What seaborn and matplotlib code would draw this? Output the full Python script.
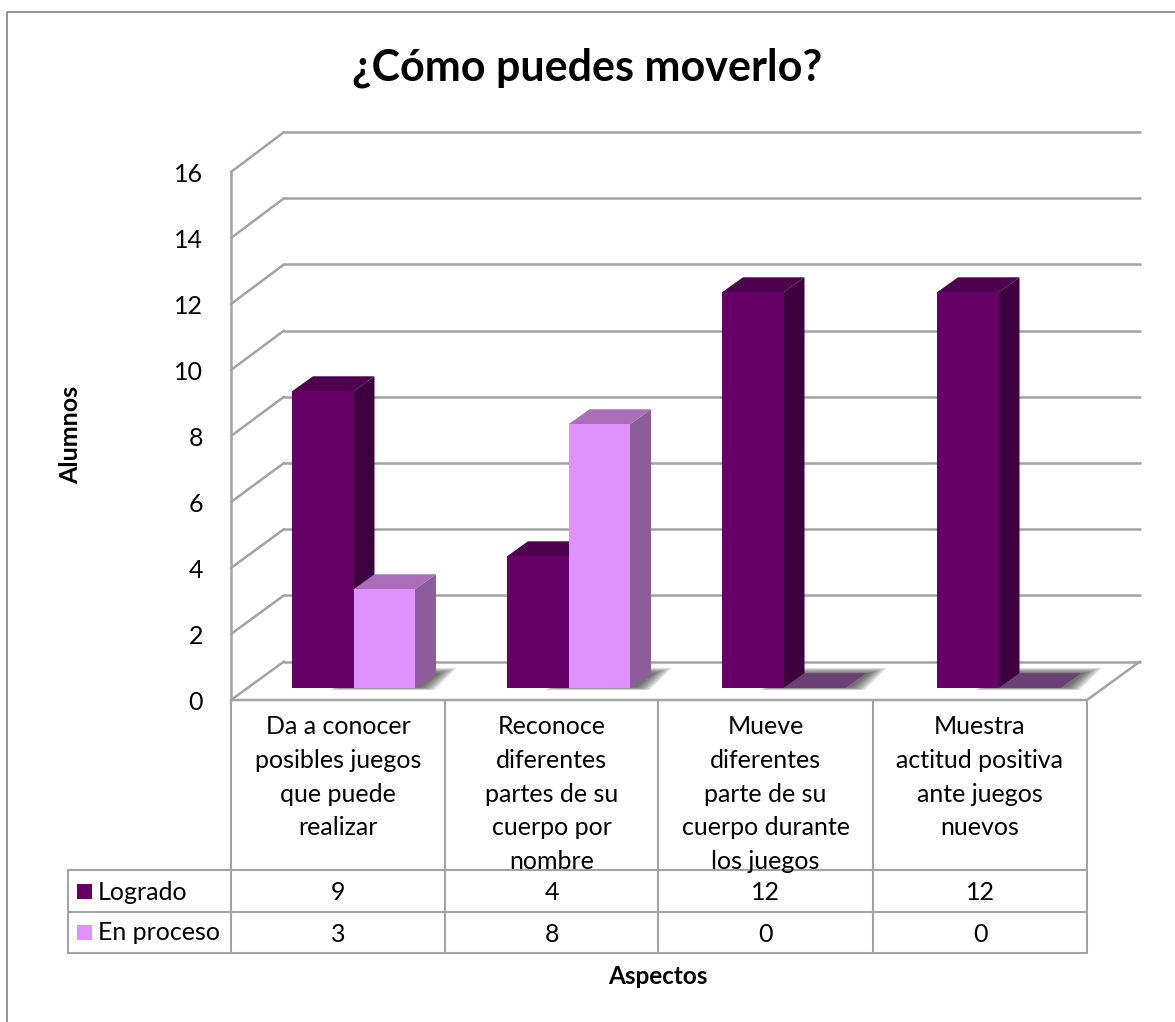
import seaborn as sns
import pandas as pd
import matplotlib.pyplot as plt
from matplotlib.patches import Polygon, Rectangle

# Data
categories = ["Da a conocer\nposibles juegos\nque puede\nrealizar",
              "Reconoce\ndiferentes\npartes de su\ncuerpo por\nnombre",
              "Mueve\ndiferentes\nparte de su\ncuerpo durante\nlos juegos",
              "Muestra\nactitud positiva\nante juegos\nnuevos"]
logrado = [9, 4, 12, 12]
en_proceso = [3, 8, 0, 0]
series_names = ["Logrado", "En proceso"]
y_ticks = [0, 2, 4, 6, 8, 10, 12, 14, 16]

W, H = 1175, 1022
GRAY = "#a3a3a3"
colors = {"Logrado": "#660066", "En proceso": "#df91fd"}
top_colors = {"Logrado": "#4d004d", "En proceso": "#ab6cba"}
side_colors = {"Logrado": "#3e003e", "En proceso": "#8e5c9b"}
flat_color = "#6d4075"

sns.set_theme(style="white")
plt.rcParams["font.family"] = ["Lato", "DejaVu Sans"]

fig = plt.figure(figsize=(W / 100, H / 100), dpi=100)


def axes_px(x0, x1, y_top, y_bottom, **kw):
    # axes placed by pixel box, y measured from the top of the picture
    return fig.add_axes([x0 / W, 1 - y_bottom / H, (x1 - x0) / W, (y_bottom - y_top) / H], **kw)


# canvas in pixel units for frame, table and walls
bg = axes_px(0, W, 0, H)
bg.set_xlim(0, W)
bg.set_ylim(H, 0)
bg.axis("off")
bg.plot([7, 7, W], [H, 12, 12], color="#8c8c8c", lw=1.3, clip_on=False)

# back wall with the gridlines
back = axes_px(284, 1140, 132, 661.5, facecolor="none")
back.set_ylim(0, 16)
back.set_yticks(y_ticks)
back.set_xticks([])
back.tick_params(labelleft=False, left=False)
back.grid(axis="y", color=GRAY, lw=1.8, clip_on=False)
sns.despine(ax=back, left=True, bottom=True)

# front plane with the value axis
front = axes_px(231, 1087, 172, 700, facecolor="none")
front.set_ylim(0, 16)
front.set_yticks(y_ticks)
front.set_xticks([])
front.tick_params(axis="y", left=False, pad=14, labelsize=18, labelcolor="black")
sns.despine(ax=front, bottom=True)
front.spines["left"].set_color(GRAY)
front.spines["left"].set_linewidth(1.8)

# oblique lines joining front and back
for t in y_ticks:
    bg.plot([231, 284], [700 - 33 * t, 661.5 - 33.09 * t], color=GRAY, lw=1.8)
bg.plot([231, 1087, 1140], [700, 700, 661.5], color=GRAY, lw=1.8)

# bars, in a plane a little behind the front one
df = pd.DataFrame({
    "cat": [c for c in categories] * 2,
    "serie": [series_names[0]] * 4 + [series_names[1]] * 4,
    "valor": logrado + en_proceso,
})
ax = axes_px(246, 1106, 160.3, 688.3, facecolor="none")
sns.barplot(data=df, x="cat", y="valor", hue="serie", palette=colors, width=0.572,
            gap=0, saturation=1, legend=False, linewidth=0, edgecolor="none", ax=ax)
ax.set_xlim(-0.5, 3.5)
ax.set_ylim(0, 16)
ax.axis("off")

# depth of the bars, in data units
px_x = 4 / 860
px_y = 16 / 528
dx = 21 * px_x
dy = 15 * px_y
bars = list(ax.patches)[:8]
for i, bar in enumerate(bars):
    serie = series_names[i // 4]
    x0, x1 = bar.get_x(), bar.get_x() + bar.get_width()
    h = bar.get_height()
    level = 3 + 2 * (i // 4)
    bar.set_zorder(level + 1)
    top = top_colors[serie] if h > 0 else flat_color
    ax.add_patch(Polygon([(x0, h), (x1, h), (x1 + dx, h + dy), (x0 + dx, h + dy)],
                         fc=top, ec="none", zorder=level))
    if h > 0:
        ax.add_patch(Polygon([(x1, 0), (x1 + dx, dy), (x1 + dx, h + dy), (x1, h)],
                             fc=side_colors[serie], ec="none", zorder=level))

# soft shadow on the floor, one per group of bars
for k in range(4):
    x0 = bars[k].get_x()
    x1 = bars[k + 4].get_x() + bars[k + 4].get_width()
    for grow in range(14, -1, -1):
        ax.add_patch(Polygon([(x0 + (52 - grow) * px_x, (1 - grow * 0.2) * px_y),
                              (x1 + (6 + grow) * px_x, (1 - grow * 0.2) * px_y),
                              (x1 + (24 + grow * 1.3) * px_x, (15 + grow * 0.4) * px_y),
                              (x0 + 60 * px_x, (15 + grow * 0.4) * px_y)],
                             fc=(0.2, 0.2, 0.2, 0.07), ec="none", zorder=2, clip_on=False))

# data table under the chart
cell_x = [231, 445, 658, 873, 1087]
for x in cell_x:
    bg.plot([x, x], [700, 953.5], color=GRAY, lw=1.5)
bg.plot([67.5, 67.5], [870.5, 953.5], color=GRAY, lw=1.5)
for y in [870.5, 912, 953.5]:
    bg.plot([67.5, 1087], [y, y], color=GRAY, lw=1.5)

for j, label in enumerate(categories):
    cx = (cell_x[j] + cell_x[j + 1]) / 2
    bg.text(cx, 715, label, ha="center", va="top", fontsize=18, linespacing=1.57, color="black")
    bg.text(cx, 892, str(logrado[j]), ha="center", va="center", fontsize=18, color="black")
    bg.text(cx, 934, str(en_proceso[j]), ha="center", va="center", fontsize=18, color="black")

for name, y in zip(series_names, [891.5, 932.5]):
    bg.add_patch(Rectangle((77, y - 7.5), 15, 15, fc=colors[name], ec="none"))
    bg.text(98, y + 0.5, name, ha="left", va="center", fontsize=18, color="black")

# titles
bg.text(587, 68, "¿Cómo puedes moverlo?", ha="center", va="center", fontsize=31,
        fontweight="bold", color="black")
bg.text(71, 435, "Alumnos", ha="center", va="center", rotation=90, fontsize=18,
        fontweight="bold", color="black")
bg.text(658, 977, "Aspectos", ha="center", va="center", fontsize=17.5,
        fontweight="bold", color="black")

fig.savefig("out.png", dpi=100, facecolor="white")
